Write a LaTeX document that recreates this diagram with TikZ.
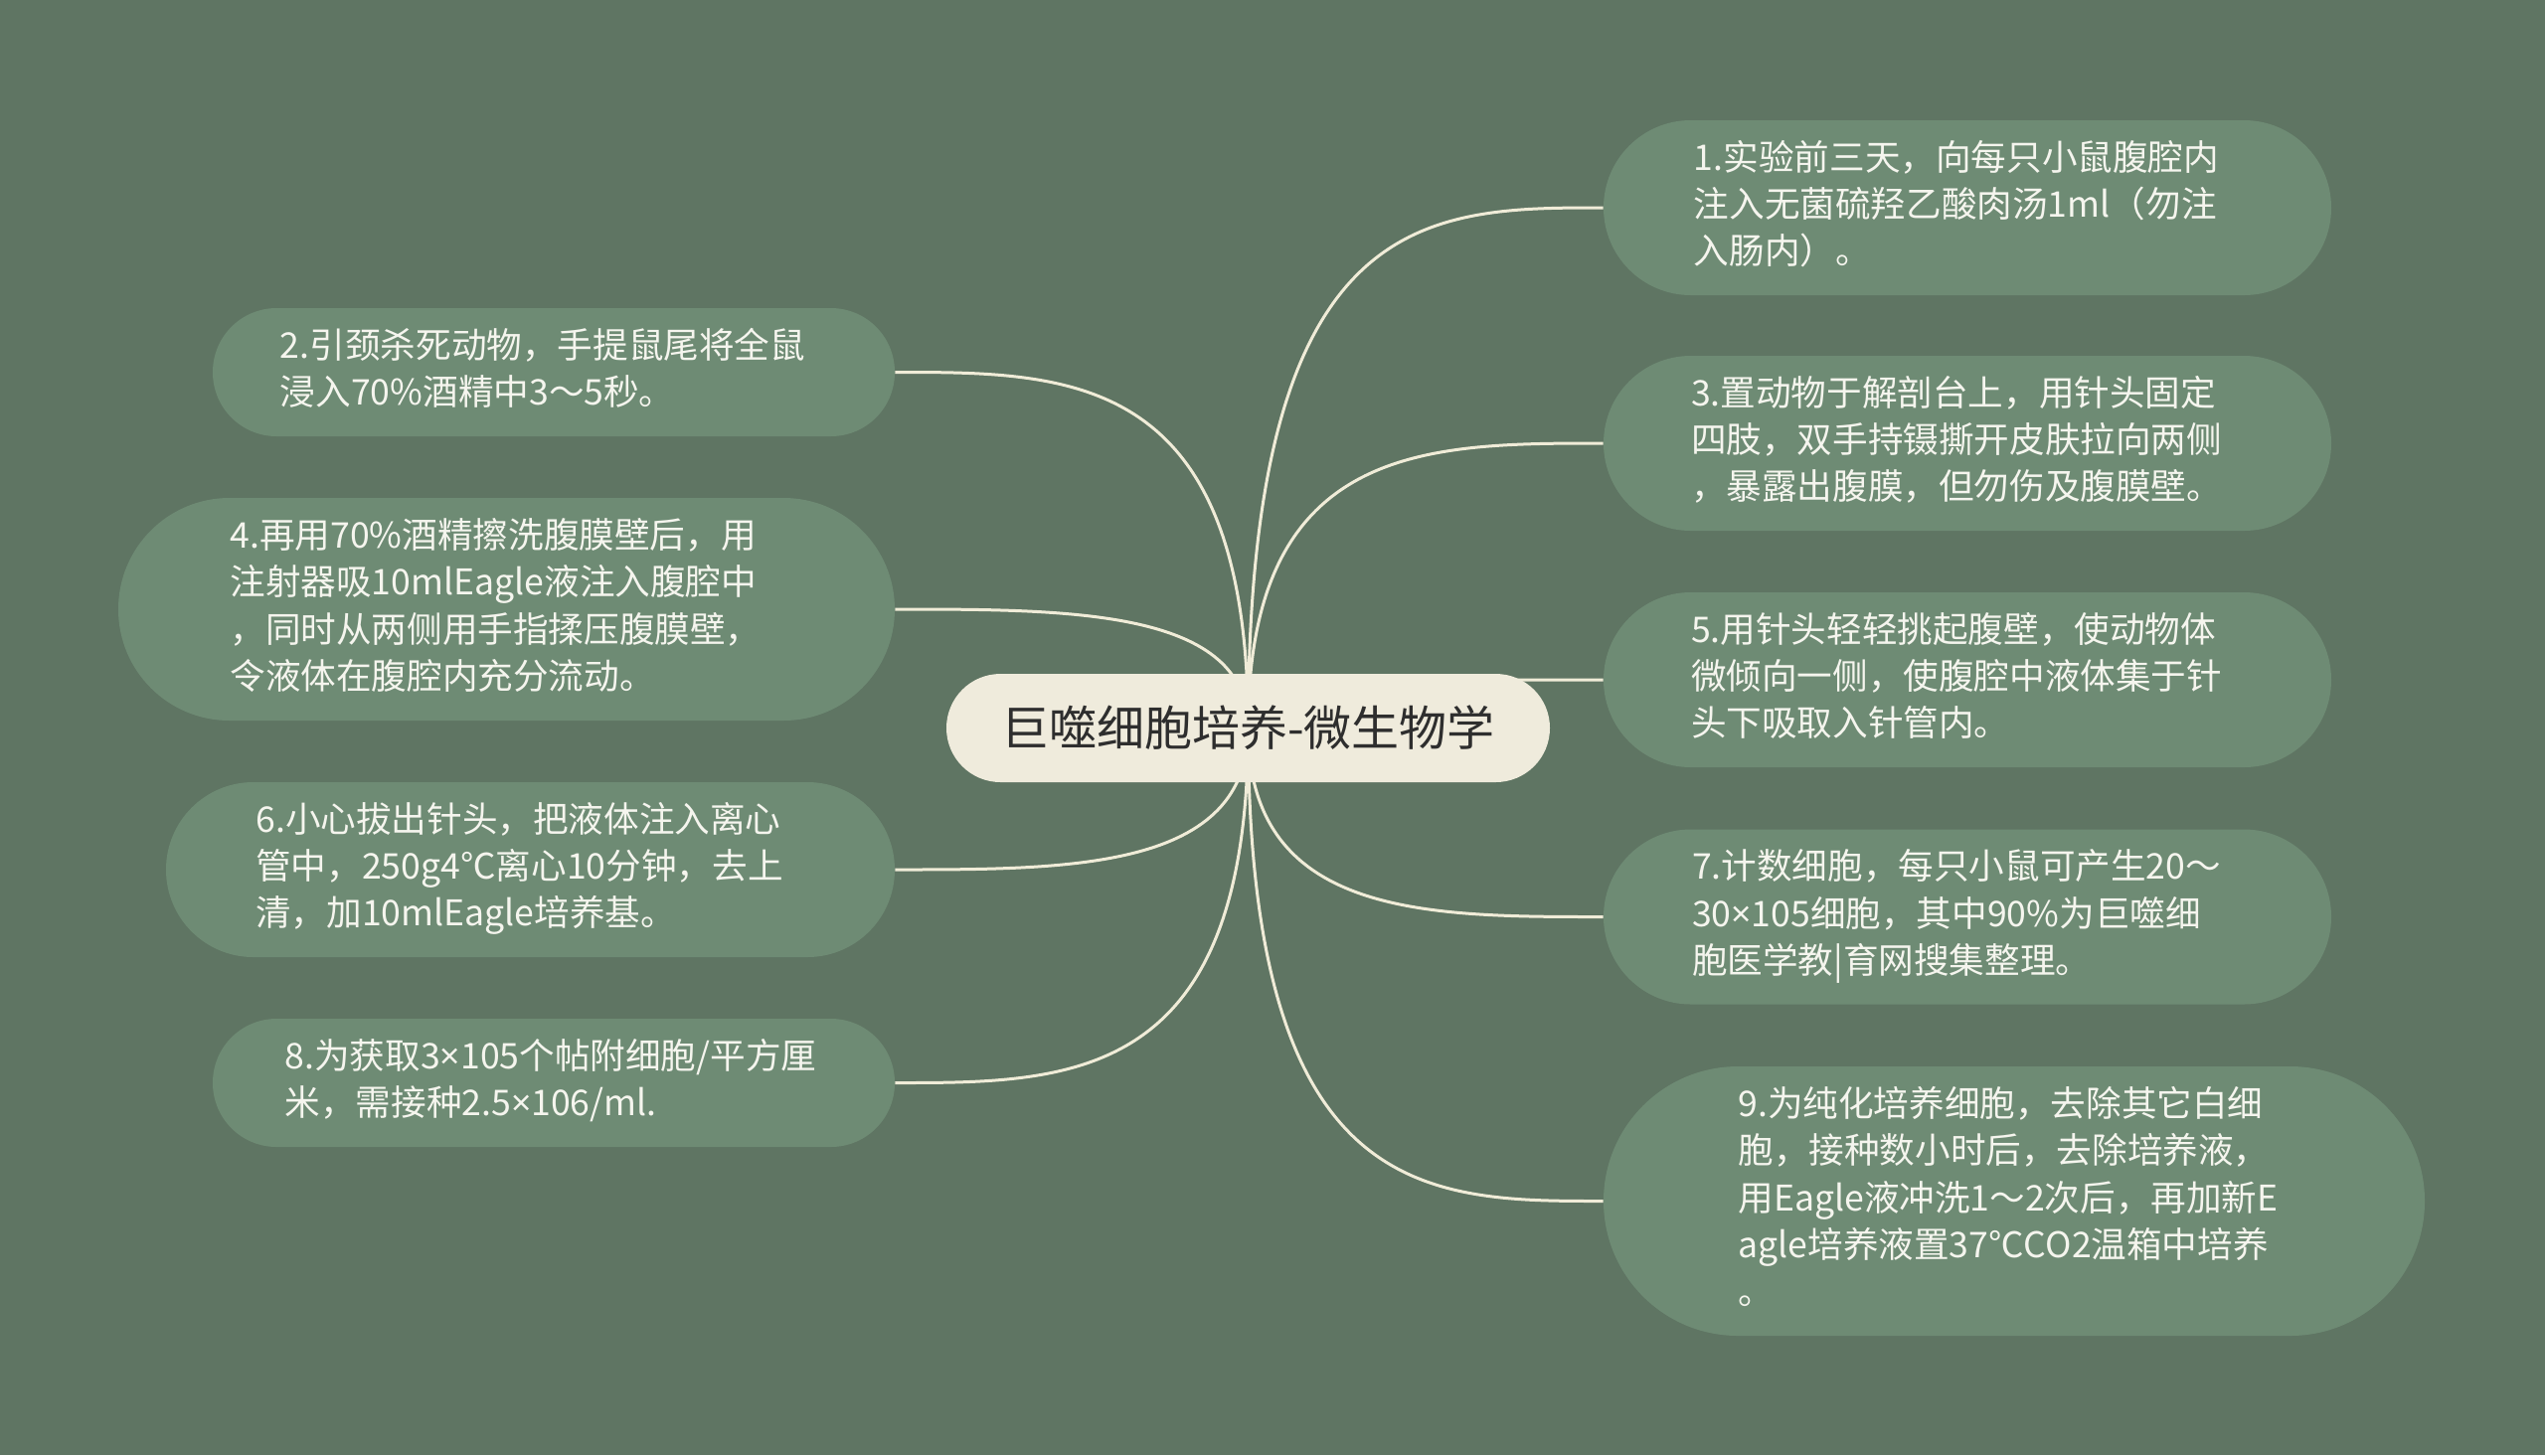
\documentclass[tikz,border=0pt]{standalone}
\usepackage{fontspec}
\setmainfont{Noto Sans CJK SC}
\newfontfamily\latinf{Noto Sans}
\usetikzlibrary{calc}
\definecolor{bgc}{HTML}{5F7563}
\definecolor{leaf}{HTML}{6E8B74}
\definecolor{rootfill}{HTML}{EFEBDC}
\definecolor{linec}{HTML}{F0ECD8}
\definecolor{leaftext}{HTML}{F5F5EE}
\definecolor{roottext}{HTML}{2E2E2E}
\pgfdeclarelayer{back}
\pgfsetlayers{back,main}
\tikzset{
  leafbox/.style={fill=leaf, text=leaftext, inner sep=0pt,
    font=\fontsize{17.8pt}{23.7pt}\selectfont},
  rootbox/.style={fill=rootfill, text=roottext, inner sep=0pt,
    font=\fontsize{24pt}{28pt}\selectfont},
  conn/.style={draw=linec, line width=1.5pt},
}
\newcommand\mmtext[2][11pt]{\begin{tabular}{@{}l@{}}#2\end{tabular}\hspace*{#1}}
\newcommand\mmx{{\latinf ×}}
\newcommand\mmlink[2]{\draw[conn] (root.center) .. controls ($(root.center |- #1.#2)$) and ($(root.center |- #1.#2)!0.5!(#1.#2)$) .. (#1.#2);}
\begin{document}
\begin{tikzpicture}[x=0.5pt,y=-0.5pt]
\useasboundingbox (0,0) rectangle (2560,1464);
\node[rootbox, minimum width=303.5pt, minimum height=54.5pt, rounded corners=27.2pt] (root) at (1255.5,732.5) {巨噬细胞培养-微生物学};
% right
\node[leafbox, minimum width=366pt, minimum height=88pt, rounded corners=43.9pt] (n1) at (1979,209) {\mmtext{1.实验前三天，向每只小鼠腹腔内\\注入无菌硫羟乙酸肉汤1ml（勿注\\入肠内）。}};
\node[leafbox, minimum width=366pt, minimum height=88pt, rounded corners=43.9pt] (n3) at (1979,446) {\mmtext{3.置动物于解剖台上，用针头固定\\四肢，双手持镊撕开皮肤拉向两侧\\，暴露出腹膜，但勿伤及腹膜壁。}};
\node[leafbox, minimum width=366pt, minimum height=88pt, rounded corners=43.9pt] (n5) at (1979,684) {\mmtext{5.用针头轻轻挑起腹壁，使动物体\\微倾向一侧，使腹腔中液体集于针\\头下吸取入针管内。}};
\node[leafbox, minimum width=366pt, minimum height=88pt, rounded corners=43.9pt] (n7) at (1979,922.5) {\mmtext{7.计数细胞，每只小鼠可产生20～\\30\mmx 105细胞，其中90\%为巨噬细\\胞医学教|育网搜集整理。}};
\node[leafbox, minimum width=413pt, minimum height=135.5pt, rounded corners=67.6pt] (n9) at (2026,1208.5) {\mmtext[6pt]{9.为纯化培养细胞，去除其它白细\\胞，接种数小时后，去除培养液，\\用Eagle液冲洗1～2次后，再加新E\\agle培养液置37℃CO2温箱中培养\\。}};
% left
\node[leafbox, minimum width=343pt, minimum height=64.5pt, rounded corners=32.1pt] (n2) at (557,374.5) {\mmtext{2.引颈杀死动物，手提鼠尾将全鼠\\浸入70\%酒精中3～5秒。}};
\node[leafbox, minimum width=390.5pt, minimum height=112pt, rounded corners=55.9pt] (n4) at (509.5,613) {\mmtext{4.再用70\%酒精擦洗腹膜壁后，用\\注射器吸10mlEagle液注入腹腔中\\，同时从两侧用手指揉压腹膜壁，\\令液体在腹腔内充分流动。}};
\node[leafbox, minimum width=366.5pt, minimum height=88pt, rounded corners=43.9pt] (n6) at (533.5,875) {\mmtext{6.小心拔出针头，把液体注入离心\\管中，250g4℃离心10分钟，去上\\清，加10mlEagle培养基。}};
\node[leafbox, minimum width=343pt, minimum height=64.5pt, rounded corners=32.1pt] (n8) at (557,1089.5) {\mmtext[3pt]{8.为获取3\mmx 105个帖附细胞/平方厘\\米，需接种2.5\mmx 106/ml.}};
\begin{pgfonlayer}{back}
\fill[bgc] (0,0) rectangle (2560,1464);
\mmlink{n1}{west}
\mmlink{n3}{west}
\mmlink{n5}{west}
\mmlink{n7}{west}
\mmlink{n9}{west}
\mmlink{n2}{east}
\mmlink{n4}{east}
\mmlink{n6}{east}
\mmlink{n8}{east}
\end{pgfonlayer}
\end{tikzpicture}
\end{document}
